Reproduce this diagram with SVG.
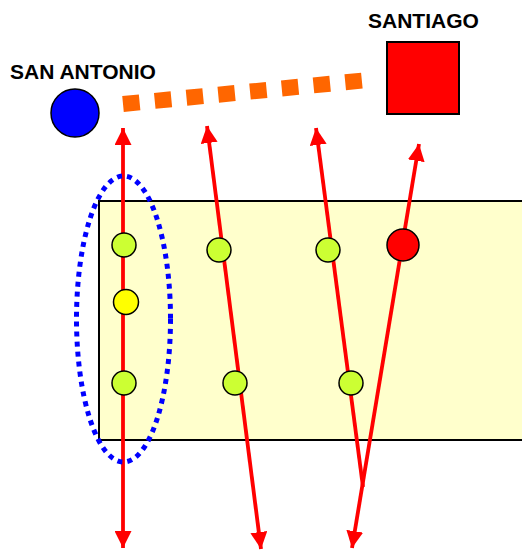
<svg xmlns="http://www.w3.org/2000/svg" width="522" height="550" viewBox="0 0 522 550">
<style>
.lbl{font-family:"Liberation Sans",Arial,sans-serif;font-weight:bold;font-size:21px;fill:#000}
.ray{stroke:#ff0000;stroke-width:3.8;fill:none}
.dot{fill:#ccff33;stroke:#000;stroke-width:1.5}
</style>
<defs>
<marker id="ah" markerUnits="userSpaceOnUse" markerWidth="17" markerHeight="17" refX="17" refY="8.5" orient="auto-start-reverse" viewBox="0 0 17 17">
<path d="M0,0 L17,8.5 L0,17 z" fill="#ff0000"/>
</marker>
</defs>
<rect id="zone" x="99" y="201" width="440" height="239" fill="#ffffcc" stroke="#000" stroke-width="2"/>
<g id="san-antonio">
<circle cx="75" cy="113" r="24" fill="#0000ff" stroke="#000" stroke-width="1.5"/>
<text class="lbl" x="10" y="79">SAN ANTONIO</text>
</g>
<g id="santiago">
<rect x="387" y="42" width="72" height="72" fill="#ff0000" stroke="#000" stroke-width="2"/>
<text class="lbl" x="368" y="28">SANTIAGO</text>
</g>
<g id="connectors">
<line x1="123" y1="104" x2="363" y2="80.5" stroke="#ff6600" stroke-width="16" stroke-dasharray="16.7 15.2"/>
<line class="ray" x1="123" y1="128" x2="123" y2="548" marker-start="url(#ah)" marker-end="url(#ah)"/>
<line class="ray" x1="207" y1="126" x2="261" y2="549" marker-start="url(#ah)" marker-end="url(#ah)"/>
<line class="ray" x1="316" y1="128" x2="363" y2="487" marker-start="url(#ah)"/>
<line class="ray" x1="419" y1="144" x2="352" y2="548" marker-start="url(#ah)" marker-end="url(#ah)"/>
</g>
<g id="points">
<circle class="dot" cx="124" cy="245" r="12"/>
<circle cx="126" cy="302" r="12.5" fill="#ffff00" stroke="#000" stroke-width="1.5"/>
<circle class="dot" cx="124" cy="383" r="12"/>
<circle class="dot" cx="219" cy="250" r="12"/>
<circle class="dot" cx="235" cy="383" r="12"/>
<circle class="dot" cx="328" cy="250" r="12"/>
<circle class="dot" cx="351" cy="383" r="12"/>
<circle cx="403" cy="245" r="16" fill="#ff0000" stroke="#000" stroke-width="1.5"/>
</g>
<g id="group-ellipse">
<ellipse cx="123.5" cy="319" rx="47" ry="143" fill="none" stroke="#0000ff" stroke-width="5" stroke-dasharray="5 5"/>
</g>
</svg>
